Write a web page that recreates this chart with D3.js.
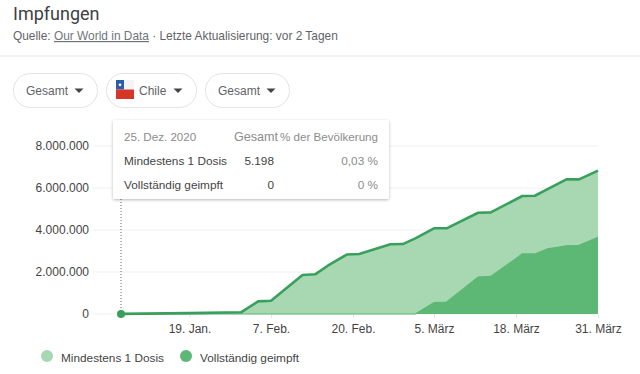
<!DOCTYPE html>
<html>
<head>
<meta charset="utf-8">
<script src="https://cdn.jsdelivr.net/npm/d3@7"></script>
<style>
  html, body { margin: 0; padding: 0; background: #fff; }
  svg { display: block; }
  text { font-family: "Liberation Sans", Arial, sans-serif; }
  .axis path { display: none; }
</style>
</head>
<body>
<div id="chart"></div>
<script>
// Dates of the points on the curves
const dates = ["2020-12-25", "2021-01-19", "2021-01-31", "2021-02-04", "2021-02-07", "2021-02-12",
  "2021-02-14", "2021-02-16", "2021-02-19", "2021-02-21", "2021-02-26", "2021-02-28", "2021-03-02",
  "2021-03-05", "2021-03-07", "2021-03-12", "2021-03-14", "2021-03-19", "2021-03-21", "2021-03-23",
  "2021-03-26", "2021-03-28", "2021-03-31"];
const firstDose = [5198, 40000, 80000, 600000, 630000, 1860000, 1890000, 2300000, 2830000, 2860000,
  3320000, 3330000, 3600000, 4080000, 4080000, 4820000, 4840000, 5620000, 5630000, 5950000,
  6410000, 6410000, 6830000];
const fullDose = [0, 0, 0, 0, 0, 0, 0, 0, 0, 0, 0, 0, 0, 540000, 570000, 1760000, 1790000,
  2860000, 2860000, 3100000, 3250000, 3270000, 3650000];

// Axis ticks
const yTicks = [0, 2000000, 4000000, 6000000, 8000000];
const xTickDates = ["2021-01-19", "2021-02-07", "2021-02-20", "2021-03-05", "2021-03-18", "2021-03-31"];
const xTickLabels = ["19. Jan.", "7. Feb.", "20. Feb.", "5. März", "18. März", "31. März"];

// Legend and tooltip
const seriesNames = ["Mindestens 1 Dosis", "Vollständig geimpft"];
const tooltipHead = ["25. Dez. 2020", "Gesamt", "% der Bevölkerung"];
const tooltipTotals = ["5.198", "0"];
const tooltipShares = ["0,03 %", "0 %"];
const chips = ["Gesamt", "Chile", "Gesamt"];

const width = 640;
const height = 374;
const lightGreen = "#a8d8b2";
const darkGreen = "#5cb874";
const lineGreen = "#399f5c";
const greyText = "#8c8c8c";
const darkText = "#444";

const parseDate = d3.timeParse("%Y-%m-%d");
const german = d3.formatLocale({ decimal: ",", thousands: ".", grouping: [3], currency: ["", " €"] });

const svg = d3.select("#chart")
  .append("svg")
  .attr("width", width)
  .attr("height", height);

// Header
svg.append("text").attr("x", 13).attr("y", 19.5)
  .attr("font-size", 18).attr("fill", "#3c4043")
  .style("font-family", "Roboto, sans-serif")
  .text("Impfungen");

const source = svg.append("text").attr("x", 13).attr("y", 40)
  .attr("font-size", 11.9).attr("fill", "#5f6368");
source.append("tspan").text("Quelle: ");
source.append("tspan").attr("text-decoration", "underline").attr("fill", "#70757a").text("Our World in Data");
source.append("tspan").text(" · Letzte Aktualisierung: vor 2 Tagen");

svg.append("line")
  .attr("x1", 0).attr("x2", width)
  .attr("y1", 56).attr("y2", 56)
  .attr("stroke", "#e6e6e6");

// Filter chips
const chipX = [13, 106, 205];
const chipW = [85, 91, 85];
const chipG = svg.selectAll(".chip")
  .data(chips)
  .enter()
  .append("g")
  .attr("class", "chip")
  .attr("transform", (d, i) => `translate(${chipX[i]},73)`);

chipG.append("rect")
  .attr("x", 0.5).attr("y", 0.5)
  .attr("width", (d, i) => chipW[i] - 1).attr("height", 34)
  .attr("rx", 17)
  .attr("fill", "#fff")
  .attr("stroke", "#e3e3e3");

chipG.append("text")
  .attr("x", (d, i) => (i === 1 ? 33 : 13))
  .attr("y", 21.5)
  .attr("font-size", 12)
  .attr("fill", "#5f6368")
  .text(d => d);

chipG.append("path")
  .attr("d", (d, i) => {
    const cx = chipW[i] - 19;
    return `M${cx - 4.5},15.5 L${cx + 4.5},15.5 L${cx},20 Z`;
  })
  .attr("fill", "#444");

// Flag of Chile
const flag = svg.append("g").attr("transform", "translate(116,80)");
flag.append("rect").attr("width", 18).attr("height", 9.5).attr("fill", "#f4f4f4");
flag.append("rect").attr("width", 8).attr("height", 9.5).attr("fill", "#2a5caa");
flag.append("rect").attr("y", 9.5).attr("width", 18).attr("height", 9.5).attr("fill", "#d8352a");
flag.append("circle").attr("cx", 4).attr("cy", 4.8).attr("r", 1.4).attr("fill", "#fff");

// The tick dates are not evenly spaced in the original, so the scale is polylinear
const xScale = d3.scaleTime()
  .domain(["2020-12-25"].concat(xTickDates).map(parseDate))
  .range([121, 189.5, 271, 353, 434, 516, 598]);

const yScale = d3.scaleLinear()
  .domain([0, 8000000])
  .range([314, 146]);

// Gridlines and y axis
svg.append("g")
  .attr("class", "axis")
  .attr("transform", "translate(93,0)")
  .call(d3.axisLeft(yScale).tickValues(yTicks).tickSize(0).tickPadding(4).tickFormat(german.format(",")))
  .call(g => g.selectAll("text").attr("font-size", 12).attr("fill", darkText).style("font-family", "'Liberation Sans'"));

svg.selectAll(".grid")
  .data(yTicks)
  .enter()
  .append("line")
  .attr("class", "grid")
  .attr("x1", 93).attr("x2", 598)
  .attr("y1", d => yScale(d)).attr("y2", d => yScale(d))
  .attr("stroke", "#f0f0f0");

// X axis
svg.append("g")
  .attr("class", "axis")
  .attr("transform", "translate(0,314)")
  .call(d3.axisBottom(xScale)
    .tickValues(xTickDates.map(parseDate))
    .tickSize(4)
    .tickPadding(6)
    .tickFormat((d, i) => xTickLabels[i]))
  .call(g => g.selectAll("line").attr("stroke", "#e4e4e4"))
  .call(g => g.selectAll("text").attr("font-size", 12).attr("fill", darkText).style("font-family", "'Liberation Sans'"));

// Areas
const points = dates.map((d, i) => ({ date: parseDate(d), first: firstDose[i], full: fullDose[i] }));

const area = key => d3.area()
  .x(d => xScale(d.date))
  .y0(yScale(0))
  .y1(d => yScale(d[key]));

const line = key => d3.line()
  .x(d => xScale(d.date))
  .y(d => yScale(d[key]));

svg.append("path").datum(points).attr("d", area("first")).attr("fill", lightGreen);
svg.append("path").datum(points).attr("d", area("full")).attr("fill", darkGreen);
svg.append("path").datum(points).attr("d", line("full"))
  .attr("fill", "none").attr("stroke", darkGreen).attr("stroke-width", 1.2);
svg.append("path").datum(points).attr("d", line("first"))
  .attr("fill", "none").attr("stroke", lineGreen).attr("stroke-width", 2.6).attr("stroke-linejoin", "round");

// Hover marker
svg.append("line")
  .attr("x1", xScale(points[0].date)).attr("x2", xScale(points[0].date))
  .attr("y1", 199).attr("y2", yScale(0))
  .attr("stroke", "#666")
  .attr("stroke-dasharray", "1,2");

svg.append("circle")
  .attr("cx", xScale(points[0].date))
  .attr("cy", yScale(points[0].first))
  .attr("r", 4)
  .attr("fill", lineGreen);

// Tooltip
const defs = svg.append("defs");
const shadow = defs.append("filter").attr("id", "shadow")
  .attr("x", "-5%").attr("y", "-10%").attr("width", "110%").attr("height", "125%");
shadow.append("feDropShadow")
  .attr("dx", 0).attr("dy", 1).attr("stdDeviation", 1.6)
  .attr("flood-color", "#000").attr("flood-opacity", 0.28);

const tip = svg.append("g").attr("transform", "translate(113,120)");
tip.append("rect")
  .attr("width", 276).attr("height", 79)
  .attr("rx", 2)
  .attr("fill", "#fff")
  .attr("filter", "url(#shadow)");

tip.append("text").attr("x", 11).attr("y", 21).attr("font-size", 11.6).attr("fill", greyText).text(tooltipHead[0]);
tip.append("text").attr("x", 165).attr("y", 21).attr("text-anchor", "end").attr("font-size", 12.6).attr("fill", greyText).text(tooltipHead[1]);
tip.append("text").attr("x", 265).attr("y", 21).attr("text-anchor", "end").attr("font-size", 11.6).attr("fill", greyText).text(tooltipHead[2]);

const rows = tip.selectAll(".row")
  .data(seriesNames)
  .enter()
  .append("g")
  .attr("class", "row")
  .attr("transform", (d, i) => `translate(0,${45 + i * 24})`);

rows.append("text").attr("x", 11).attr("font-size", 11.8).attr("fill", darkText).text(d => d);
rows.append("text").attr("x", 161).attr("text-anchor", "end").attr("font-size", 11.8).attr("fill", darkText)
  .text((d, i) => tooltipTotals[i]);
rows.append("text").attr("x", 265).attr("text-anchor", "end").attr("font-size", 11.8).attr("fill", greyText)
  .text((d, i) => tooltipShares[i]);

// Legend
const legendCx = [47, 186];
const legendColors = [lightGreen, darkGreen];
const legend = svg.selectAll(".legend")
  .data(seriesNames)
  .enter()
  .append("g")
  .attr("class", "legend")
  .attr("transform", (d, i) => `translate(${legendCx[i]},356)`);

legend.append("circle").attr("r", 6).attr("fill", (d, i) => legendColors[i]);
legend.append("text").attr("x", 14).attr("y", 6).attr("font-size", 11.8).attr("fill", darkText).text(d => d);
</script>
</body>
</html>
